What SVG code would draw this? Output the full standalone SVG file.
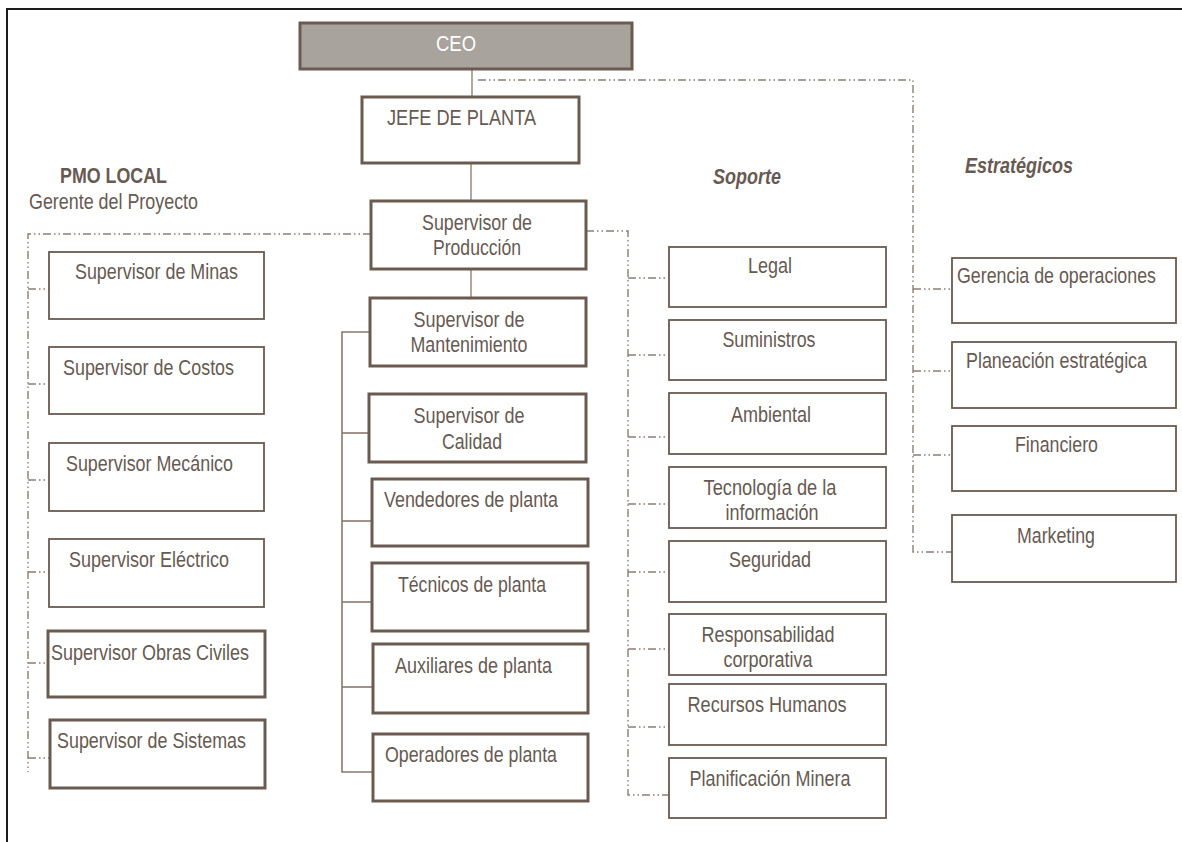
<svg xmlns="http://www.w3.org/2000/svg" width="1182" height="842" viewBox="0 0 1182 842">
  <style>
    .box { fill: #ffffff; stroke: #6b5a50; stroke-width: 1.8; }
    .boxb { fill: #ffffff; stroke: #6b5a50; stroke-width: 3; }
    .ceo { fill: #a8a39d; stroke: #6b5a50; stroke-width: 3; }
    text { font-family: "Liberation Sans", Arial, sans-serif; font-size: 21.5px; fill: #675a52; }
    .c { text-anchor: middle; }
    .hd { font-weight: bold; }
    .hi { font-weight: bold; font-style: italic; }
    .w { fill: #ffffff; }
    .dd { fill: none; stroke: #8c7e76; stroke-width: 1.4; stroke-dasharray: 8 3 1.5 3 1.5 3; }
    .sl { fill: none; stroke: #9c928b; stroke-width: 1.6; }
    .br { fill: none; stroke: #8a786d; stroke-width: 1.6; }
    .frame { fill: none; stroke: #1c1c1c; stroke-width: 2; }
  </style>

  <!-- page frame -->
  <polyline class="frame" points="7,842 7,9 1182,9"/>

  <!-- connectors -->
  <g id="connectors">
    <!-- solid reporting lines -->
    <line class="sl" x1="472" y1="69" x2="472" y2="97"/>
    <line class="sl" x1="471" y1="163" x2="471" y2="201"/>
    <line class="sl" x1="471" y1="269" x2="471" y2="298"/>
    <!-- production bracket -->
    <polyline class="br" points="370,332 342,332 342,772 373,772"/>
    <line class="br" x1="342" y1="433" x2="369" y2="433"/>
    <line class="br" x1="342" y1="521" x2="372" y2="521"/>
    <line class="br" x1="342" y1="602" x2="372" y2="602"/>
    <line class="br" x1="342" y1="687" x2="373" y2="687"/>
    <!-- strategic branch -->
    <polyline class="dd" points="478,80 913,80 913,552 952,552"/>
    <line class="dd" x1="913" y1="289" x2="952" y2="289"/>
    <line class="dd" x1="913" y1="371" x2="952" y2="371"/>
    <line class="dd" x1="913" y1="455" x2="952" y2="455"/>
    <!-- support branch -->
    <polyline class="dd" points="586,231 628,231 628,795 669,795"/>
    <line class="dd" x1="628" y1="278" x2="669" y2="278"/>
    <line class="dd" x1="628" y1="355" x2="669" y2="355"/>
    <line class="dd" x1="628" y1="437" x2="669" y2="437"/>
    <line class="dd" x1="628" y1="504" x2="669" y2="504"/>
    <line class="dd" x1="628" y1="572" x2="669" y2="572"/>
    <line class="dd" x1="628" y1="649" x2="669" y2="649"/>
    <line class="dd" x1="628" y1="727" x2="669" y2="727"/>
    <!-- local PMO branch -->
    <polyline class="dd" points="371,234 28,234 28,772"/>
    <line class="dd" x1="28" y1="289" x2="49" y2="289"/>
    <line class="dd" x1="28" y1="384" x2="49" y2="384"/>
    <line class="dd" x1="28" y1="480" x2="49" y2="480"/>
    <line class="dd" x1="28" y1="572" x2="49" y2="572"/>
    <line class="dd" x1="28" y1="663" x2="49" y2="663"/>
    <line class="dd" x1="28" y1="758" x2="50" y2="758"/>
  </g>

  <!-- headings -->
  <g id="headings">
    <text class="hd" x="60" y="183" textLength="107" lengthAdjust="spacingAndGlyphs">PMO LOCAL</text>
    <text x="29" y="209" textLength="169" lengthAdjust="spacingAndGlyphs">Gerente del Proyecto</text>
    <text class="hi" x="713" y="184" textLength="68" lengthAdjust="spacingAndGlyphs">Soporte</text>
    <text class="hi" x="965" y="173" textLength="108" lengthAdjust="spacingAndGlyphs">Estratégicos</text>
  </g>

  <!-- top -->
  <g id="ceo">
    <rect class="ceo" x="300" y="23" width="332" height="46"/>
    <text class="w" x="436" y="51" textLength="40" lengthAdjust="spacingAndGlyphs">CEO</text>
  </g>
  <g id="jefe-planta">
    <rect class="boxb" x="362" y="97" width="217" height="66"/>
    <text x="387" y="125" textLength="149" lengthAdjust="spacingAndGlyphs">JEFE DE PLANTA</text>
  </g>

  <!-- production column -->
  <g id="sup-produccion">
    <rect class="boxb" x="371" y="201" width="215" height="68"/>
    <text class="c" x="477" y="230" textLength="110" lengthAdjust="spacingAndGlyphs">Supervisor de</text>
    <text class="c" x="477" y="255" textLength="88" lengthAdjust="spacingAndGlyphs">Producción</text>
  </g>
  <g id="sup-mantenimiento">
    <rect class="boxb" x="370" y="298" width="216" height="68"/>
    <text class="c" x="469" y="327" textLength="111" lengthAdjust="spacingAndGlyphs">Supervisor de</text>
    <text class="c" x="469" y="352" textLength="117" lengthAdjust="spacingAndGlyphs">Mantenimiento</text>
  </g>
  <g id="sup-calidad">
    <rect class="boxb" x="369" y="394" width="217" height="68"/>
    <text class="c" x="469" y="423" textLength="111" lengthAdjust="spacingAndGlyphs">Supervisor de</text>
    <text class="c" x="472" y="449" textLength="60" lengthAdjust="spacingAndGlyphs">Calidad</text>
  </g>
  <g id="vendedores">
    <rect class="boxb" x="372" y="479" width="216" height="67"/>
    <text x="384" y="507" textLength="174" lengthAdjust="spacingAndGlyphs">Vendedores de planta</text>
  </g>
  <g id="tecnicos">
    <rect class="boxb" x="372" y="563" width="216" height="68"/>
    <text x="398" y="592" textLength="148" lengthAdjust="spacingAndGlyphs">Técnicos de planta</text>
  </g>
  <g id="auxiliares">
    <rect class="boxb" x="373" y="644" width="215" height="69"/>
    <text x="395" y="673" textLength="157" lengthAdjust="spacingAndGlyphs">Auxiliares de planta</text>
  </g>
  <g id="operadores">
    <rect class="boxb" x="373" y="734" width="215" height="67"/>
    <text x="385" y="762" textLength="172" lengthAdjust="spacingAndGlyphs">Operadores de planta</text>
  </g>

  <!-- local PMO column -->
  <g id="sup-minas">
    <rect class="box" x="49" y="252" width="215" height="67"/>
    <text x="75" y="279" textLength="163" lengthAdjust="spacingAndGlyphs">Supervisor de Minas</text>
  </g>
  <g id="sup-costos">
    <rect class="box" x="49" y="347" width="215" height="67"/>
    <text x="63" y="375" textLength="171" lengthAdjust="spacingAndGlyphs">Supervisor de Costos</text>
  </g>
  <g id="sup-mecanico">
    <rect class="box" x="49" y="443" width="215" height="68"/>
    <text x="66" y="471" textLength="167" lengthAdjust="spacingAndGlyphs">Supervisor Mecánico</text>
  </g>
  <g id="sup-electrico">
    <rect class="box" x="49" y="539" width="215" height="68"/>
    <text x="69" y="567" textLength="160" lengthAdjust="spacingAndGlyphs">Supervisor Eléctrico</text>
  </g>
  <g id="sup-obras-civiles">
    <rect class="boxb" x="48" y="631" width="217" height="66"/>
    <text x="51" y="660" textLength="198" lengthAdjust="spacingAndGlyphs">Supervisor Obras Civiles</text>
  </g>
  <g id="sup-sistemas">
    <rect class="boxb" x="50" y="720" width="215" height="68"/>
    <text x="57" y="748" textLength="189" lengthAdjust="spacingAndGlyphs">Supervisor de Sistemas</text>
  </g>

  <!-- support column -->
  <g id="legal">
    <rect class="box" x="669" y="247" width="217" height="60"/>
    <text class="c" x="770" y="273" textLength="44" lengthAdjust="spacingAndGlyphs">Legal</text>
  </g>
  <g id="suministros">
    <rect class="box" x="669" y="320" width="217" height="60"/>
    <text class="c" x="769" y="347" textLength="93" lengthAdjust="spacingAndGlyphs">Suministros</text>
  </g>
  <g id="ambiental">
    <rect class="box" x="669" y="393" width="217" height="61"/>
    <text class="c" x="771" y="422" textLength="80" lengthAdjust="spacingAndGlyphs">Ambiental</text>
  </g>
  <g id="tecnologia">
    <rect class="box" x="669" y="467" width="217" height="61"/>
    <text class="c" x="770" y="495" textLength="133" lengthAdjust="spacingAndGlyphs">Tecnología de la</text>
    <text class="c" x="772" y="520" textLength="93" lengthAdjust="spacingAndGlyphs">información</text>
  </g>
  <g id="seguridad">
    <rect class="box" x="669" y="541" width="217" height="61"/>
    <text class="c" x="770" y="567" textLength="82" lengthAdjust="spacingAndGlyphs">Seguridad</text>
  </g>
  <g id="responsabilidad">
    <rect class="box" x="669" y="614" width="217" height="61"/>
    <text class="c" x="768" y="642" textLength="133" lengthAdjust="spacingAndGlyphs">Responsabilidad</text>
    <text class="c" x="768" y="667" textLength="89" lengthAdjust="spacingAndGlyphs">corporativa</text>
  </g>
  <g id="recursos-humanos">
    <rect class="box" x="669" y="684" width="217" height="61"/>
    <text class="c" x="767" y="712" textLength="159" lengthAdjust="spacingAndGlyphs">Recursos Humanos</text>
  </g>
  <g id="planificacion-minera">
    <rect class="box" x="669" y="758" width="217" height="60"/>
    <text class="c" x="770" y="786" textLength="161" lengthAdjust="spacingAndGlyphs">Planificación Minera</text>
  </g>

  <!-- strategic column -->
  <g id="gerencia-operaciones">
    <rect class="box" x="952" y="258" width="224" height="65"/>
    <text x="957" y="283" textLength="199" lengthAdjust="spacingAndGlyphs">Gerencia de operaciones</text>
  </g>
  <g id="planeacion-estrategica">
    <rect class="box" x="952" y="342" width="224" height="66"/>
    <text x="966" y="368" textLength="181" lengthAdjust="spacingAndGlyphs">Planeación estratégica</text>
  </g>
  <g id="financiero">
    <rect class="box" x="952" y="426" width="224" height="65"/>
    <text x="1015" y="452" textLength="83" lengthAdjust="spacingAndGlyphs">Financiero</text>
  </g>
  <g id="marketing">
    <rect class="box" x="952" y="515" width="224" height="67"/>
    <text x="1017" y="543" textLength="78" lengthAdjust="spacingAndGlyphs">Marketing</text>
  </g>
</svg>
